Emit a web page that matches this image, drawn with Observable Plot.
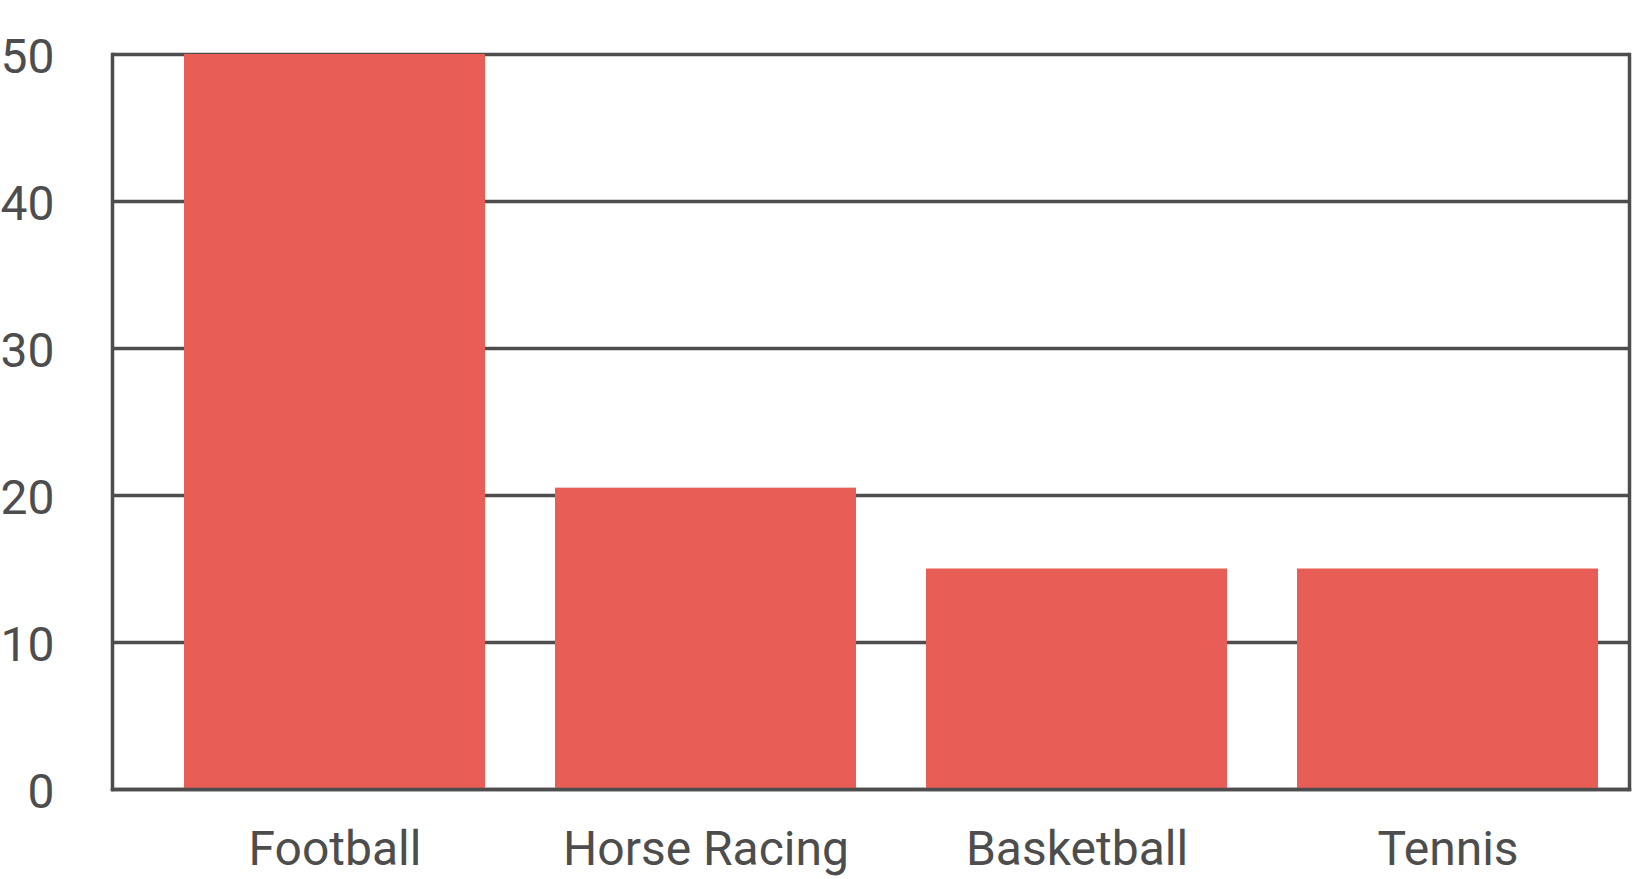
<!DOCTYPE html>
<html>
<head>
<meta charset="utf-8">
<script src="https://cdn.jsdelivr.net/npm/d3@7"></script>
<script src="https://cdn.jsdelivr.net/npm/@observablehq/plot@0.6"></script>
<style>
  html, body { margin: 0; padding: 0; background: #fff; }
  #chart svg { display: block; }
</style>
</head>
<body>
<div id="chart"></div>
<script>
const sports = ["Football", "Horse Racing", "Basketball", "Tennis"];
const values = [50, 20.5, 15, 15];
const yTicks = [0, 10, 20, 30, 40, 50];

const data = sports.map((s, i) => ({sport: s, value: values[i]}));

const ink = "#4d4d4d";
const chart = Plot.plot({
  width: 1632,
  height: 879,
  marginLeft: 112,
  marginRight: 3,
  marginTop: 54,
  marginBottom: 90,
  style: {fontFamily: "Roboto, sans-serif", background: "#fff", color: ink},
  x: {domain: sports, range: [112, 1670], padding: 0.19, label: null},
  y: {domain: [0, 50], label: null},
  marks: [
    Plot.gridY(yTicks, {stroke: ink, strokeOpacity: 1, strokeWidth: 3.5}),
    Plot.barY(data, {x: "sport", y: "value", fill: "#e85e57"}),
    Plot.frame({stroke: ink, strokeWidth: 3.5, anchor: "left"}),
    Plot.frame({stroke: ink, strokeWidth: 3.5, anchor: "right"}),
    Plot.frame({stroke: ink, strokeWidth: 3.5, anchor: "bottom"}),
    Plot.axisY(yTicks, {tickSize: 0, tickPadding: 58, fontSize: 48, fill: ink, dy: 3, label: null}),
    Plot.axisX({tickSize: 0, tickPadding: 41, fontSize: 48, fill: ink, label: null})
  ]
});
document.getElementById("chart").appendChild(chart);
</script>
</body>
</html>
